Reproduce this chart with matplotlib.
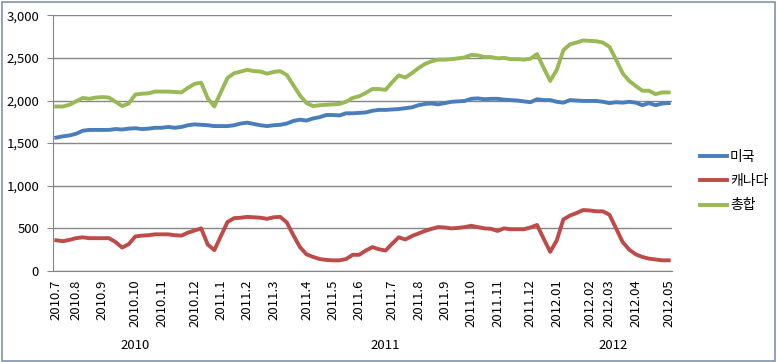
import numpy as np
import matplotlib
matplotlib.use('Agg')
import matplotlib.pyplot as plt
from matplotlib.patches import Rectangle
from matplotlib.transforms import blended_transform_factory

plt.rcParams['font.family'] = ['Noto Sans CJK KR', 'DejaVu Sans']

# weekly category labels (blank = no label shown)
week_labels = ['2010.7', '', '', '2010.8', '', '', '', '2010.9', '', '', '', '',
               '2010.10', '', '', '', '2010.11', '', '', '', '', '2010.12', '', '', '',
               '2011.1', '', '', '', '2011.2', '', '', '', '2011.3', '', '', '', '',
               '2011.4', '', '', '', '2011.5', '', '', '', '2011.6', '', '', '', '',
               '2011.7', '', '', '', '2011.8', '', '', '', '2011.9', '', '', '',
               '2011.10', '', '', '', '2011.11', '', '', '', '', '2011.12', '', '', '',
               '2012.01', '', '', '', '', '2012.02', '', '', '2012.03', '', '', '',
               '2012.04', '', '', '', '', '2012.05']
years = ['2010', '2011', '2012']
year_sizes = [25, 51, 18]

usa = [1565, 1580, 1590, 1610, 1645, 1655, 1655, 1655, 1655, 1665,
       1660, 1670, 1675, 1665, 1670, 1680, 1680, 1690, 1680, 1690,
       1710, 1720, 1715, 1710, 1700, 1700, 1700, 1710, 1730, 1740,
       1725, 1710, 1700, 1710, 1715, 1730, 1760, 1775, 1765, 1790,
       1805, 1830, 1830, 1825, 1850, 1850, 1855, 1860, 1880, 1890,
       1890, 1895, 1900, 1910, 1920, 1945, 1960, 1965, 1955, 1970,
       1985, 1990, 1995, 2020, 2025, 2015, 2020, 2020, 2010, 2005,
       2000, 1990, 1980, 2015, 2005, 2005, 1985, 1975, 2005, 2000,
       1995, 1995, 1995, 1985, 1970, 1980, 1975, 1985, 1975, 1945,
       1970, 1945, 1965, 1970]
canada = [360, 350, 365, 385, 395, 385, 385, 385, 385, 340,
          275, 315, 405, 415, 420, 430, 430, 430, 420, 415,
          450, 475, 500, 310, 245, 410, 575, 620, 625, 635,
          630, 625, 612, 630, 635, 570, 420, 280, 195, 165,
          140, 130, 125, 125, 140, 190, 190, 240, 280, 255,
          240, 320, 395, 370, 410, 440, 470, 495, 515, 510,
          500, 505, 515, 530, 515, 500, 495, 470, 500, 490,
          490, 490, 510, 540, 380, 225, 360, 605, 650, 680,
          715, 710, 700, 700, 660, 500, 340, 250, 195, 165,
          145, 135, 125, 125]
total = [1930, 1930, 1950, 1990, 2030, 2020, 2035, 2040, 2035, 1985,
         1935, 1965, 2070, 2080, 2085, 2105, 2105, 2105, 2100, 2095,
         2150, 2195, 2210, 2025, 1930, 2100, 2265, 2320, 2340, 2360,
         2345, 2340, 2315, 2335, 2345, 2300, 2180, 2060, 1970, 1935,
         1945, 1950, 1955, 1960, 1985, 2030, 2050, 2090, 2135, 2135,
         2125, 2215, 2295, 2270, 2320, 2380, 2430, 2460, 2480, 2480,
         2485, 2495, 2505, 2535, 2530, 2510, 2510, 2495, 2500, 2485,
         2485, 2480, 2490, 2545, 2385, 2230, 2360, 2590, 2660, 2680,
         2705, 2700, 2695, 2680, 2630, 2480, 2320, 2230, 2170, 2115,
         2115, 2075, 2095, 2095]

fig = plt.figure(figsize=(7.77, 3.62), dpi=100)
fig.patches.append(Rectangle((0.003, 0.004), 0.994, 0.99, transform=fig.transFigure,
                             fill=False, edgecolor='#7f93ab', linewidth=1.2))
ax = fig.add_axes([0.0682, 0.2514, 0.7967, 0.7064])

x = np.arange(len(week_labels))
ax.plot(x, usa, color='#4a7ebb', lw=2.8, label='미국', solid_joinstyle='round')
ax.plot(x, canada, color='#be4b48', lw=2.8, label='캐나다', solid_joinstyle='round')
ax.plot(x, total, color='#98b954', lw=2.8, label='총합', solid_joinstyle='round')

ax.set_xlim(-0.5, len(week_labels) - 0.5)
ax.set_ylim(0, 3000)
ax.set_yticks(np.arange(0, 3001, 500))
ax.set_yticklabels([f'{v:,}' for v in range(0, 3001, 500)], fontsize=9.5)
ax.grid(axis='y', color='#868686', lw=1)
ax.set_axisbelow(True)
for s in ['top', 'right']:
    ax.spines[s].set_visible(False)
for s in ['left', 'bottom']:
    ax.spines[s].set_color('#868686')
ax.tick_params(axis='y', length=4, color='#868686', pad=6)

labeled = [i for i, l in enumerate(week_labels) if l]
ax.set_xticks(labeled)
ax.set_xticklabels([week_labels[i] for i in labeled], rotation=90, fontsize=9.5)
ax.tick_params(axis='x', length=0, pad=6)

trans = blended_transform_factory(ax.transData, ax.transAxes)
start = 0
for yr, n in zip(years, year_sizes):
    ax.text(start + (n - 1) / 2, -0.29, yr, transform=trans, ha='center', va='center', fontsize=9.5)
    start += n

ax.legend(loc='center left', bbox_to_anchor=(0.885, 0.5), bbox_transform=fig.transFigure,
          frameon=False, fontsize=10, handlelength=1.95, handletextpad=0.2, labelspacing=0.75)

fig.savefig('out.png', dpi=100)
